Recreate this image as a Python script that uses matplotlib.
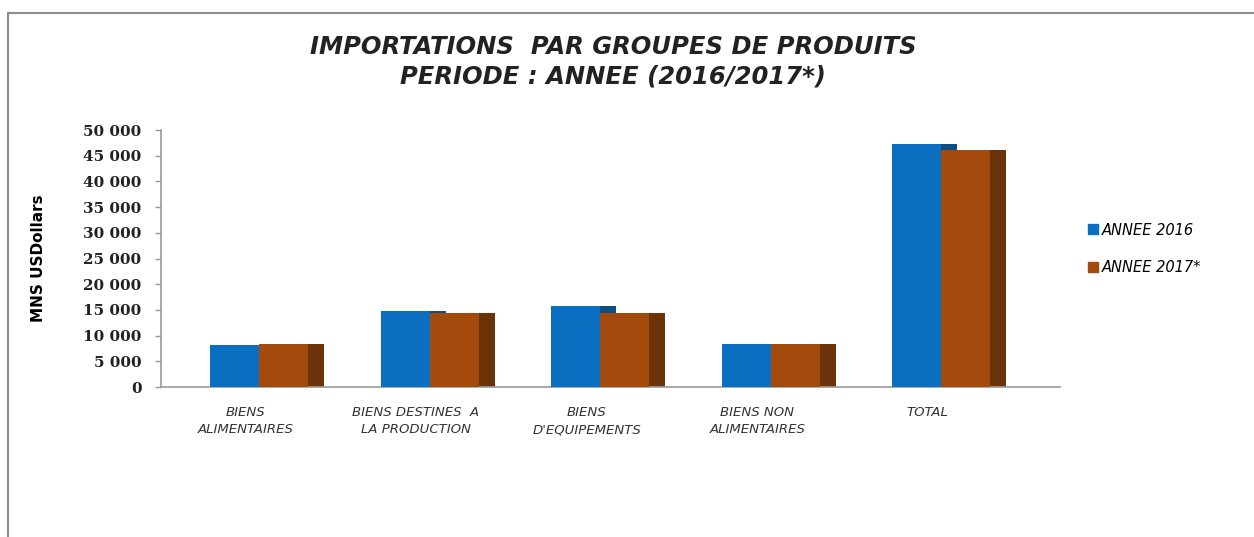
import numpy as np
import matplotlib
matplotlib.use("Agg")
import matplotlib.pyplot as plt
import matplotlib.ticker as mticker
from matplotlib.lines import Line2D

# ============================================================
# DATA
# ============================================================

categories = [
    "BIENS\nALIMENTAIRES",
    "BIENS DESTINES  A\nLA PRODUCTION",
    "BIENS\nD'EQUIPEMENTS",
    "BIENS NON\nALIMENTAIRES",
    "TOTAL",
]
annee_2016 = [8200, 14700, 15800, 8300, 47300]
annee_2017 = [8400, 14450, 14400, 8400, 46100]
series_names = ["ANNEE 2016", "ANNEE 2017*"]
y_ticks = np.arange(0, 50001, 5000)

# ============================================================
# STYLE
# ============================================================

BLUE = "#0B6FC1"
BLUE_SIDE = "#0D4F84"
ORANGE = "#A34A0C"
ORANGE_SIDE = "#6B3408"
AXIS_GREY = "#9A9A9A"

bar_w = 0.287
depth = 0.094

x = np.arange(len(categories))

fig = plt.figure(figsize=(12.54, 5.37), dpi=100)
ax = fig.add_axes([0.1284, 0.2793, 0.7169, 0.4786])

# side faces (drawn behind the front faces)
ax.bar(x, annee_2016, width=depth, align="edge", color=BLUE_SIDE,
       zorder=1, linewidth=0)
ax.bar(x + bar_w, annee_2017, width=depth, align="edge", color=ORANGE_SIDE,
       zorder=2, linewidth=0)

# front faces
ax.bar(x - bar_w, annee_2016, width=bar_w, align="edge", color=BLUE,
       zorder=3, linewidth=0)
ax.bar(x, annee_2017, width=bar_w, align="edge", color=ORANGE,
       zorder=3, linewidth=0)

ax.set_xlim(-0.574, 4.695)
ax.set_ylim(0, 50000)

# ============================================================
# AXES
# ============================================================

for s in ["top", "right"]:
    ax.spines[s].set_visible(False)
for s in ["left", "bottom"]:
    ax.spines[s].set_color(AXIS_GREY)
    ax.spines[s].set_linewidth(1.2)

ax.set_yticks(y_ticks)
ax.yaxis.set_major_formatter(
    mticker.FuncFormatter(lambda v, p: f"{int(v):,}".replace(",", " "))
)
ax.tick_params(axis="y", colors=AXIS_GREY, length=4, width=1, pad=10)
for lab in ax.get_yticklabels():
    lab.set_fontfamily("DejaVu Serif")
    lab.set_fontweight("bold")
    lab.set_fontsize(11)
    lab.set_color("#222222")

ax.set_xticks(x - 0.08)
ax.set_xticklabels(categories, fontsize=9.5, fontstyle="italic",
                   color="#333333", linespacing=1.4)
ax.tick_params(axis="x", length=0, pad=14)

ax.set_ylabel("MNS USDollars", fontsize=11, fontweight="bold",
              family=["Liberation Sans Narrow", "DejaVu Sans"])
ax.yaxis.set_label_coords(-0.128, 0.5)

# ============================================================
# TITLE
# ============================================================

title_font = dict(ha="center", va="center", fontsize=17.5, fontstyle="italic",
                  fontweight="bold", color="#222222",
                  family=["Liberation Sans Narrow", "DejaVu Sans"])
fig.text(0.489, 0.912, "IMPORTATIONS  PAR GROUPES DE PRODUITS", **title_font)
fig.text(0.489, 0.857, "PERIODE : ANNEE (2016/2017*)", **title_font)

# ============================================================
# LEGEND
# ============================================================

handles = [
    Line2D([], [], marker="s", linestyle="none", markersize=7,
           markerfacecolor=BLUE, markeredgecolor=BLUE),
    Line2D([], [], marker="s", linestyle="none", markersize=7,
           markerfacecolor=ORANGE, markeredgecolor=ORANGE),
]
fig.legend(handles, series_names, loc="upper left",
           bbox_to_anchor=(0.855, 0.61), frameon=False,
           prop={"style": "italic", "size": 10.5}, labelspacing=1.55,
           handletextpad=0.15, handlelength=1.0)

# ============================================================
# FRAME
# ============================================================

fig.add_artist(Line2D([0.0064, 1.0], [0.976, 0.976], transform=fig.transFigure,
                      color="#8C8C8C", linewidth=1.5))
fig.add_artist(Line2D([0.0064, 0.0064], [0.0, 0.976], transform=fig.transFigure,
                      color="#8C8C8C", linewidth=1.5))

fig.savefig("out.png", dpi=100)
